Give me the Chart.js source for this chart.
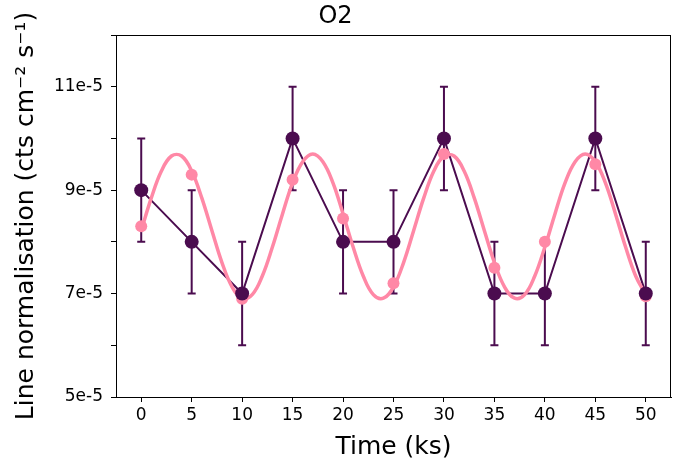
<!DOCTYPE html>
<html>
<head>
<meta charset="utf-8">
<script src="https://cdn.jsdelivr.net/npm/chart.js@4"></script>
<style>
  html, body { margin: 0; padding: 0; background: #fff; }
  #wrap { width: 686px; height: 463px; }
</style>
</head>
<body>
<div id="wrap"><canvas id="chart" width="686" height="463"></canvas></div>
<script>
// values in units of 1e-5 cts cm^-2 s^-1
const times = [0, 5, 10, 15, 20, 25, 30, 35, 40, 45, 50];
const observed = [9, 8, 7, 10, 8, 8, 10, 7, 7, 10, 7];
const observedErr = [1, 1, 1, 1, 1, 1, 1, 1, 1, 1, 1];
const modelPoints = [8.3, 9.3, 6.9, 9.2, 8.45, 7.2, 9.7, 7.5, 8.0, 9.5, 6.95];

// smooth model curve, read every 1 ks
const curveTimes = [0, 1, 2, 3, 4, 5, 6, 7, 8, 9, 10, 11, 12, 13, 14, 15, 16, 17, 18, 19, 20,
  21, 22, 23, 24, 25, 26, 27, 28, 29, 30, 31, 32, 33, 34, 35, 36, 37, 38, 39, 40,
  41, 42, 43, 44, 45, 46, 47, 48, 49, 50];
const curveValues = [8.22, 8.85, 9.37, 9.66, 9.66, 9.37, 8.85, 8.22, 7.60, 7.13, 6.91,
  6.98, 7.34, 7.90, 8.54, 9.14, 9.55, 9.70, 9.55, 9.14, 8.54,
  7.90, 7.34, 6.98, 6.91, 7.13, 7.60, 8.22, 8.85, 9.37, 9.66,
  9.66, 9.37, 8.85, 8.22, 7.60, 7.13, 6.91, 6.98, 7.34, 7.90,
  8.54, 9.14, 9.55, 9.70, 9.55, 9.14, 8.54, 7.90, 7.34, 6.98];

const xTicks = [0, 5, 10, 15, 20, 25, 30, 35, 40, 45, 50];
const yLabelled = [5, 7, 9, 11];

const purple = '#4b0c4f';
const pink = '#ff88a6';
const font = 'DejaVu Sans';

// error bars under the lines, box around the plot
const errorBars = {
    id: 'errorBars',
    beforeDatasetsDraw(chart) {
        const ctx = chart.ctx;
        const xs = chart.scales.x, ys = chart.scales.y;
        ctx.save();
        ctx.strokeStyle = purple;
        ctx.lineWidth = 2;
        times.forEach((t, i) => {
            const px = xs.getPixelForValue(t);
            const top = ys.getPixelForValue(observed[i] + observedErr[i]);
            const bot = ys.getPixelForValue(observed[i] - observedErr[i]);
            ctx.beginPath();
            ctx.moveTo(px, top); ctx.lineTo(px, bot);
            ctx.moveTo(px - 4, top); ctx.lineTo(px + 4, top);
            ctx.moveTo(px - 4, bot); ctx.lineTo(px + 4, bot);
            ctx.stroke();
        });
        ctx.restore();
    },
    afterDraw(chart) {
        const a = chart.chartArea, ctx = chart.ctx;
        ctx.save();
        ctx.strokeStyle = '#000';
        ctx.lineWidth = 1;
        ctx.strokeRect(a.left + 0.5, a.top + 0.5, a.right - a.left - 1, a.bottom - a.top);
        ctx.restore();
    }
};

const ctx = document.getElementById('chart').getContext('2d');
new Chart(ctx, {
    type: 'line',
    data: {
        datasets: [{
            data: times.map((t, i) => ({ x: t, y: observed[i] })),
            borderColor: purple,
            borderWidth: 2,
            pointRadius: 0,
            order: 4
        }, {
            data: curveTimes.map((t, i) => ({ x: t, y: curveValues[i] })),
            borderColor: pink,
            borderWidth: 3.5,
            pointRadius: 0,
            tension: 0.4,
            order: 3
        }, {
            data: times.map((t, i) => ({ x: t, y: modelPoints[i] })),
            showLine: false,
            pointRadius: 6,
            pointBackgroundColor: pink,
            pointBorderWidth: 0,
            order: 2
        }, {
            data: times.map((t, i) => ({ x: t, y: observed[i] })),
            showLine: false,
            pointRadius: 7,
            pointBackgroundColor: purple,
            pointBorderWidth: 0,
            order: 1
        }]
    },
    options: {
        responsive: false,
        animation: false,
        layout: { padding: { left: 0, right: 15, top: 0, bottom: 0 } },
        plugins: {
            legend: { display: false },
            tooltip: { enabled: false },
            title: {
                display: true,
                text: 'O2',
                color: '#000',
                font: { family: font, size: 24, weight: 'normal' },
                padding: { top: 2, bottom: 4.2 }
            }
        },
        scales: {
            x: {
                type: 'linear',
                min: -2.5,
                max: 52.5,
                afterBuildTicks: axis => { axis.ticks = xTicks.map(v => ({ value: v })); },
                ticks: { color: '#000', font: { family: font, size: 17 }, padding: 3, maxRotation: 0 },
                grid: { drawOnChartArea: false, tickLength: 5, color: '#000' },
                border: { color: '#000' },
                title: {
                    display: true,
                    text: 'Time (ks)',
                    color: '#000',
                    font: { family: font, size: 25 },
                    padding: { top: 0, bottom: 1 }
                },
                afterFit: axis => { axis.height = 66; }
            },
            y: {
                type: 'linear',
                min: 5,
                max: 12,
                ticks: {
                    stepSize: 1,
                    color: '#000',
                    font: { family: font, size: 17 },
                    padding: 8,
                    callback: v => yLabelled.includes(v) ? v + 'e-5' : ''
                },
                grid: { drawOnChartArea: false, tickLength: 5, color: '#000' },
                border: { color: '#000' },
                title: {
                    display: true,
                    text: 'Line normalisation (cts cm\u207B\u00B2 s\u207B\u00B9)',
                    color: '#000',
                    font: { family: font, size: 25 },
                    padding: { top: 11, bottom: 0 }
                },
                afterFit: axis => { axis.width = 116; }
            }
        }
    },
    plugins: [errorBars]
});
</script>
</body>
</html>
